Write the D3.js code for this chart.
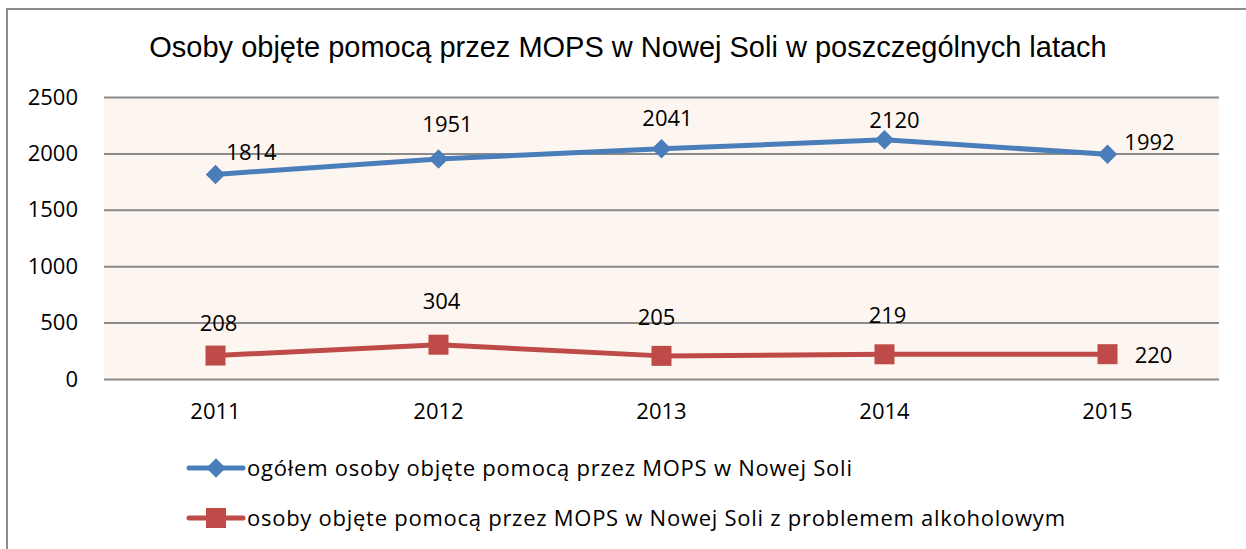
<!DOCTYPE html>
<html>
<head>
<meta charset="utf-8">
<script src="https://cdn.jsdelivr.net/npm/d3@7"></script>
<style>
body{margin:0;background:#fff}
svg{display:block}
</style>
</head>
<body>
<script>
const years=['2011','2012','2013','2014','2015']
const ogolem=[1814,1951,2041,2120,1992]
const alkohol=[208,304,205,219,220]
const yTicks=[0,500,1000,1500,2000,2500]
const title='Osoby objęte pomocą przez MOPS w Nowej Soli w poszczególnych latach'
const names=['ogółem osoby objęte pomocą przez MOPS w Nowej Soli','osoby objęte pomocą przez MOPS w Nowej Soli z problemem alkoholowym']

// label offsets (dx, dy from point), roughly like the excel layout
const offBlue=[[36,-14],[9,-27],[6,-23],[10,-12],[42,-4]]
const offRed=[[3,-25],[3,-36],[-5,-31],[3,-31],[46,9]]
const legendWidths=[605,818]

const width=1246
const height=549
const mLeft=104, mRight=1219, mTop=97, mBottom=379
const blue='#4a7ebb', red='#be4b48'
const font='"Open Sans", Lato, sans-serif'

const svg=d3.select('body').append('svg').attr('width',width).attr('height',height)

// chart frame
svg.append('rect').attr('x',7).attr('y',9).attr('width',1260).attr('height',560)
   .attr('fill','#fff').attr('stroke','#8c8c8c').attr('stroke-width',2)

svg.append('text').attr('x',628).attr('y',57).attr('text-anchor','middle')
   .style('font-family','"Liberation Sans", Arial, sans-serif').style('font-size','29px')
   .text(title)

const xScale=d3.scaleBand().domain(years).range([mLeft,mRight])
const yScale=d3.scaleLinear().domain([0,2500]).range([mBottom,mTop])

svg.append('rect').attr('x',mLeft).attr('y',mTop).attr('width',mRight-mLeft).attr('height',mBottom-mTop)
   .attr('fill','#fdf5f0')

const yAxis=d3.axisLeft(yScale).tickValues(yTicks).tickSize(-(mRight-mLeft)).tickPadding(26).tickFormat(d3.format('d'))
const gy=svg.append('g').attr('transform',`translate(${mLeft},0)`).call(yAxis)
gy.select('.domain').remove()
gy.selectAll('line').attr('stroke','#8a8a8a').attr('stroke-width',2)
gy.selectAll('text').style('font-family',font).style('font-size','22px').attr('fill','#000')

const xAxis=d3.axisBottom(xScale).tickSize(0).tickPadding(24)
const gx=svg.append('g').attr('transform',`translate(0,${mBottom})`).call(xAxis)
gx.select('.domain').remove()
gx.selectAll('text').style('font-family',font).style('font-size','22px').attr('fill','#000')

const cx=d=>xScale(d)+xScale.bandwidth()/2
const line=d3.line().x((d,i)=>cx(years[i])).y(d=>yScale(d))

function series(vals,color,diamond,offs){
  svg.append('path').datum(vals).attr('d',line).attr('fill','none')
     .attr('stroke',color).attr('stroke-width',5).attr('stroke-linejoin','round')
  svg.selectAll(null).data(vals).enter().append('path')
     .attr('d',d3.symbol().type(d3.symbolSquare).size(diamond?190:400))
     .attr('transform',(d,i)=>`translate(${cx(years[i])},${yScale(d)})`+(diamond?' rotate(45)':''))
     .attr('fill',color)
  svg.selectAll(null).data(vals).enter().append('text')
     .attr('x',(d,i)=>cx(years[i])+offs[i][0])
     .attr('y',(d,i)=>yScale(d)+offs[i][1])
     .attr('text-anchor','middle')
     .style('font-family',font).style('font-size','22px')
     .text(d=>d)
}
series(ogolem,blue,true,offBlue)
series(alkohol,red,false,offRed)

// legend
const legend=svg.append('g')
const colors=[blue,red]
names.forEach((n,i)=>{
  const y=468+i*50
  legend.append('line').attr('x1',189).attr('x2',243).attr('y1',y).attr('y2',y)
     .attr('stroke',colors[i]).attr('stroke-width',5).attr('stroke-linecap','round')
  legend.append('path').attr('d',d3.symbol().type(d3.symbolSquare).size(i===0?190:400))
     .attr('transform',`translate(216,${y})`+(i===0?' rotate(45)':''))
     .attr('fill',colors[i])
  legend.append('text').attr('x',247).attr('y',y+8)
     .attr('textLength',legendWidths[i]).attr('lengthAdjust','spacing')
     .style('font-family',font).style('font-size','22px').text(n)
})
</script>
</body>
</html>
